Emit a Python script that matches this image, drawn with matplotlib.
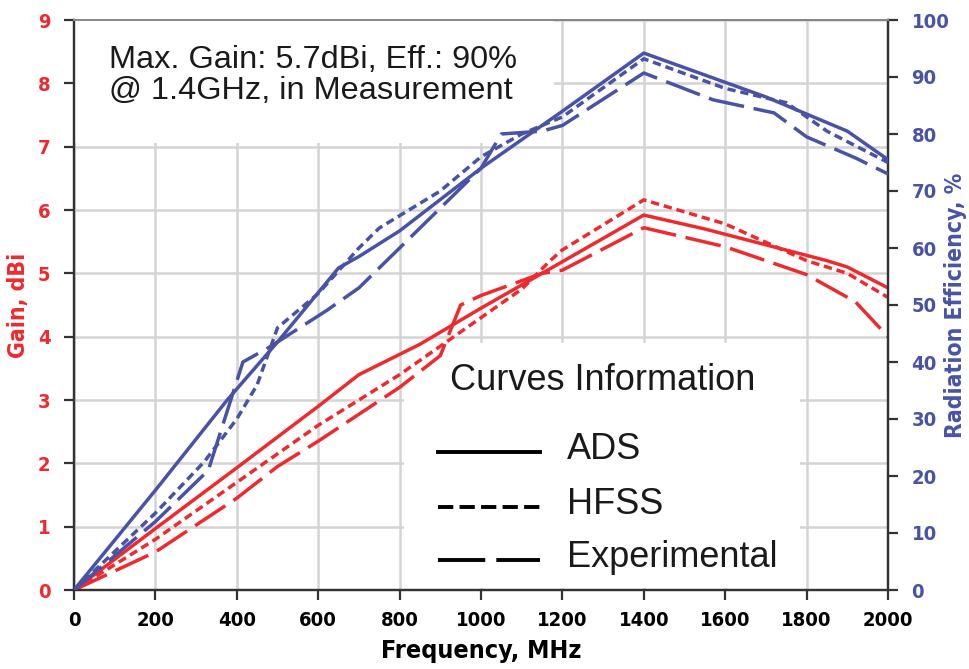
import matplotlib
matplotlib.use("Agg")
import matplotlib.pyplot as plt
from matplotlib.lines import Line2D
from matplotlib.patches import Rectangle
from matplotlib import font_manager

plt.rcParams["lines.scale_dashes"] = False

# ---- axis ticks ----
freq_ticks = [0, 200, 400, 600, 800, 1000, 1200, 1400, 1600, 1800, 2000]
gain_ticks = [0, 1, 2, 3, 4, 5, 6, 7, 8, 9]
eff_ticks = [0, 10, 20, 30, 40, 50, 60, 70, 80, 90, 100]

# ---- gain curves (dBi) ----
ads_gain_f = [0, 200, 400, 600, 700, 850, 1000, 1150, 1400, 1550, 1850, 1900, 2000]
ads_gain = [0, 0.97, 1.93, 2.9, 3.4, 3.88, 4.45, 5.0, 5.92, 5.7, 5.2, 5.1, 4.77]

hfss_gain_f = [0, 200, 400, 600, 800, 900, 1000, 1100, 1170, 1200, 1400, 1600, 1800, 1900, 2000]
hfss_gain = [0, 0.8, 1.7, 2.6, 3.4, 3.85, 4.3, 4.75, 5.2, 5.37, 6.16, 5.78, 5.2, 5.0, 4.62]

exp_gain_f = [0, 200, 400, 500, 600, 800, 900, 950, 1000, 1150, 1200, 1400, 1600, 1800, 1920, 2000]
exp_gain = [0, 0.6, 1.45, 1.95, 2.35, 3.2, 3.7, 4.5, 4.65, 5.0, 5.05, 5.72, 5.42, 4.98, 4.55, 4.0]

# ---- radiation efficiency curves (%) ----
ads_eff_f = [0, 200, 376, 500, 650, 700, 800, 1000, 1200, 1400, 1700, 1900, 2000]
ads_eff = [0, 17.5, 33.3, 43.5, 56.5, 58.5, 63, 74, 84, 94.2, 86.5, 80.5, 75.5]

hfss_eff_f = [0, 200, 320, 400, 450, 500, 600, 700, 750, 900, 1000, 1100, 1200, 1400, 1600, 1750, 1850, 2000]
hfss_eff = [0, 13.5, 22.5, 30, 36, 46, 52, 60, 63.5, 70, 76, 80, 83, 93.2, 88, 85.5, 80.5, 75]

exp_eff_f = [0, 200, 330, 415, 480, 620, 700, 800, 900, 1000, 1050, 1150, 1200, 1400, 1570, 1720, 1800, 1920, 2000]
exp_eff = [0, 12, 21, 40, 42.6, 49, 53, 60, 67, 74, 80, 80.5, 81.5, 90.7, 86, 83.7, 79.5, 75.8, 73]

RED = "#EE2A2E"
BLUE = "#4853A6"
GRID = "#D4D4D4"

SANS = "Liberation Sans"
have_condensed = any(f.name == "DejaVu Sans" and str(f.stretch) in ("condensed", "semi-condensed")
                     and f.weight in ("bold", 700) for f in font_manager.fontManager.ttflist)
if have_condensed:
    LABEL_FONT = dict(family="DejaVu Sans", stretch="condensed", weight="bold")
else:
    LABEL_FONT = dict(family="Liberation Sans", weight="bold")

SOLID = "-"
SHORT = (0, (6, 3.5))
LONG = (0, (26, 7))
KEY_SHORT = (0, (11, 4.5))
KEY_LONG = (0, (34, 8))
LW = 2.5

fig = plt.figure(figsize=(9.69, 6.69), dpi=100)
ax = fig.add_axes([74 / 969, 1 - 590 / 669, 814 / 969, 570 / 669])
ax2 = ax.twinx()

ax.set_xlim(0, 2000)
ax.set_ylim(0, 9)
ax2.set_ylim(0, 100)

ax.set_xticks(freq_ticks)
ax.set_yticks(gain_ticks)
ax2.set_yticks(eff_ticks)
ax.grid(True, color=GRID, linewidth=1.8, zorder=0)
ax.set_axisbelow(True)

# white panels behind the annotation and the curve-style key
ax.add_patch(Rectangle((0.0, 0.784), 0.59, 0.216, transform=ax.transAxes,
                       facecolor="white", edgecolor="none", zorder=1))
ax.add_patch(Rectangle((0.405, 0.004), 0.487, 0.43, transform=ax.transAxes,
                       facecolor="white", edgecolor="none", zorder=1))

# gain on the left axis
ax.plot(ads_gain_f, ads_gain, color=RED, lw=LW, linestyle=SOLID, zorder=3)
ax.plot(hfss_gain_f, hfss_gain, color=RED, lw=LW, linestyle=SHORT, zorder=3)
ax.plot(exp_gain_f, exp_gain, color=RED, lw=LW, linestyle=LONG, zorder=3)

# efficiency on the right axis
ax2.plot(ads_eff_f, ads_eff, color=BLUE, lw=LW, linestyle=SOLID, zorder=3)
ax2.plot(hfss_eff_f, hfss_eff, color=BLUE, lw=LW, linestyle=SHORT, zorder=3)
ax2.plot(exp_eff_f, exp_eff, color=BLUE, lw=LW, linestyle=LONG, zorder=3)

# spines and ticks
for a in (ax, ax2):
    for side in ("left", "right", "bottom"):
        a.spines[side].set_color("#333333")
        a.spines[side].set_linewidth(1.6)
    a.spines["top"].set_color("#888888")
    a.spines["top"].set_linewidth(1.4)

ax.tick_params(axis="both", direction="out", length=7, width=1.6, color="#333333")
ax2.tick_params(axis="y", direction="out", length=7, width=1.6, color="#333333")

tick_font = dict(LABEL_FONT, size=14.5)
ax.set_xticklabels([str(v) for v in freq_ticks], **tick_font, color="black")
ax.set_yticklabels([str(v) for v in gain_ticks], **tick_font, color=RED)
ax2.set_yticklabels([str(v) for v in eff_ticks], **tick_font, color=BLUE)
ax.tick_params(axis="x", pad=8)
ax.tick_params(axis="y", pad=10)
ax2.tick_params(axis="y", pad=10)

ax.set_xlabel("Frequency, MHz", **LABEL_FONT, size=18, va="center")
ax.xaxis.set_label_coords(0.5, -0.107)
ax.set_ylabel("Gain, dBi", **LABEL_FONT, size=16.5, color=RED, va="center")
ax.yaxis.set_label_coords(-0.0676, 0.5)
ax2.set_ylabel("Radiation Efficiency, %", **LABEL_FONT, size=16.5, color=BLUE,
               rotation=90, va="center")
ax2.yaxis.set_label_coords(1.0835, 0.5)

# annotation at top left
ax2.text(0.043, 0.957, "Max. Gain: 5.7dBi, Eff.: 90%\n@ 1.4GHz, in Measurement",
         transform=ax2.transAxes, ha="left", va="top", family=SANS, size=23.4,
         linespacing=1.08, color="#1A1A1A", zorder=6)

# curve-style key
ax2.text(0.462, 0.368, "Curves Information", transform=ax2.transAxes, ha="left",
         va="center", family=SANS, size=26, color="#1A1A1A", zorder=6)
key_rows = [("ADS", SOLID, 0.242), ("HFSS", KEY_SHORT, 0.146), ("Experimental", KEY_LONG, 0.053)]
for label, style, ypos in key_rows:
    ax2.add_line(Line2D([0.447, 0.572], [ypos, ypos], transform=ax2.transAxes,
                        color="black", lw=2.8, linestyle=style, zorder=6))
    ax2.text(0.606, ypos + 0.004, label, transform=ax2.transAxes, ha="left",
             va="center", family=SANS, size=26, color="#1A1A1A", zorder=6)

fig.savefig("out.png", dpi=100)
